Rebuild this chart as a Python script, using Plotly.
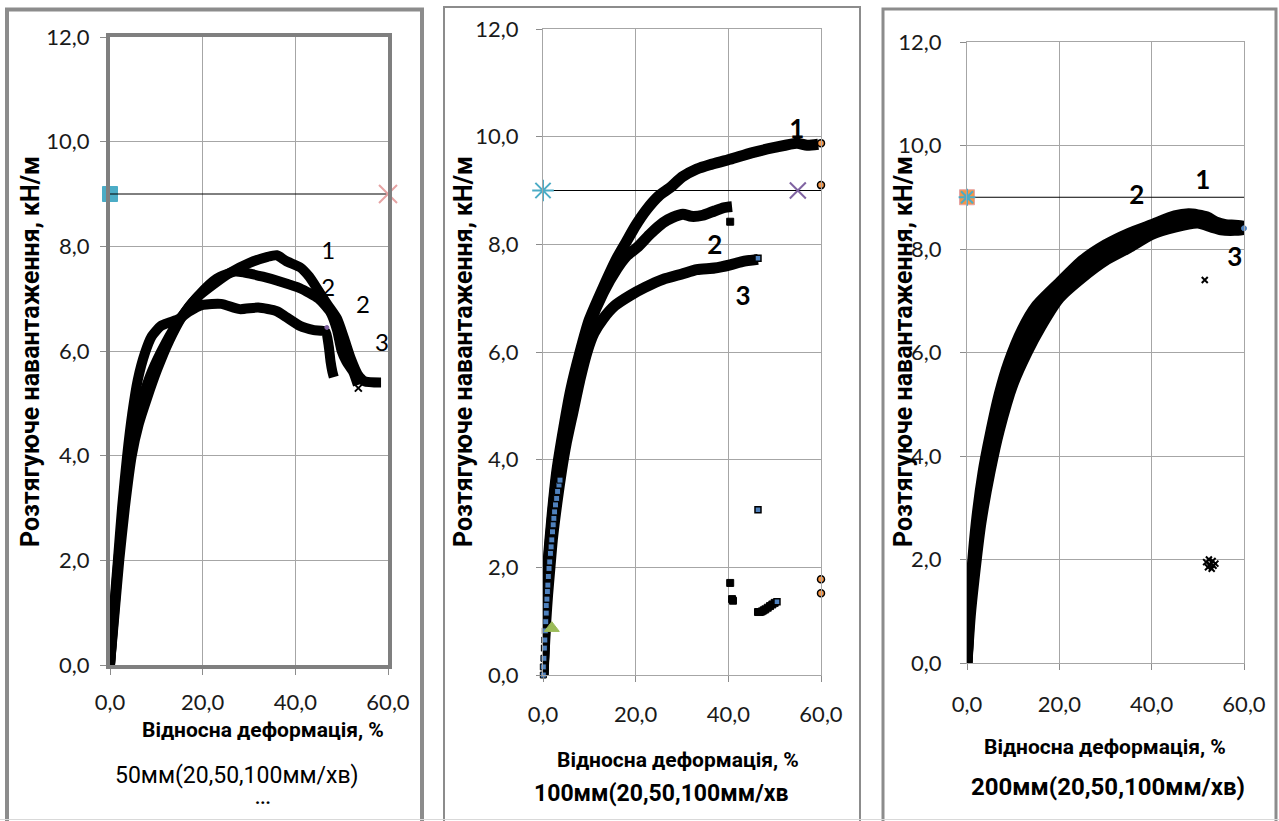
import plotly.graph_objects as go

W, H = 1279, 821

# ---------------- data ----------------
# Panel 1: 50 mm
p1_c1_x = [0, 1, 2, 3.2, 4.7, 6.2, 8, 10.2, 12.8, 15.5, 18.5, 22, 26, 30, 34, 36, 38, 41, 43, 45, 47, 49, 50.5, 52, 53.5, 55, 58.5]
p1_c1_y = [0, 1, 2, 3, 4, 4.6, 5.1, 5.65, 6.2, 6.65, 7.0, 7.25, 7.5, 7.68, 7.8, 7.83, 7.72, 7.6, 7.42, 7.15, 6.88, 6.62, 6.25, 5.85, 5.55, 5.42, 5.4]
p1_c2_x = [0, 0.9, 1.8, 2.9, 4.2, 5.6, 7.2, 9, 12, 15, 19, 23, 27, 29, 33, 37, 41, 45, 47.5, 49, 50, 51, 52.5, 53.5]
p1_c2_y = [0, 1, 2, 3, 4, 4.65, 5.15, 5.6, 6.15, 6.6, 7.05, 7.38, 7.52, 7.5, 7.42, 7.32, 7.2, 7.0, 6.75, 6.4, 6.0, 5.8, 5.6, 5.35]
p1_c3_x = [0, 0.8, 1.7, 2.6, 3.7, 4.8, 6, 7.5, 9, 11, 13, 15, 17, 20, 24, 28, 32, 36, 38, 41, 44, 46.5, 47.2, 47.6, 48, 48.3]
p1_c3_y = [0, 1, 2, 3, 4, 4.8, 5.45, 5.95, 6.28, 6.48, 6.55, 6.62, 6.75, 6.88, 6.9, 6.8, 6.83, 6.76, 6.65, 6.48, 6.4, 6.37, 6.1, 5.8, 5.6, 5.5]

# Panel 2: 100 mm
p2_c1_x = [0, 0.5, 1, 2, 3, 4.5, 6, 8, 10, 13, 16, 18, 20, 22.4, 25, 27.4, 30, 33.2, 36, 40.4, 45, 50, 54.8, 57, 59.4]
p2_c1_y = [0, 1.2, 2.0, 3.0, 3.8, 4.6, 5.3, 6.0, 6.6, 7.2, 7.75, 8.05, 8.35, 8.65, 8.9, 9.05, 9.25, 9.4, 9.48, 9.58, 9.7, 9.8, 9.88, 9.84, 9.86]
p2_c2_x = [0, 0.5, 1, 2, 3, 4.5, 6, 8, 10, 13, 16, 18, 20.3, 23, 25.9, 28, 30.2, 32, 34.5, 37, 39, 40.8]
p2_c2_y = [0, 1.1, 1.9, 2.9, 3.7, 4.5, 5.2, 5.9, 6.5, 7.1, 7.55, 7.78, 7.94, 8.18, 8.4, 8.5, 8.56, 8.52, 8.54, 8.62, 8.68, 8.7]
p2_c3_x = [0, 0.3, 0.6, 1, 1.5, 2, 3, 4, 5, 6.5, 8, 9.5, 11, 13, 15.5, 18.8, 22, 25.9, 30, 33.2, 37, 40.4, 43, 46.4]
p2_c3_y = [0, 0.5, 1.0, 1.5, 2.0, 2.5, 3.2, 3.8, 4.3, 4.9, 5.5, 6.0, 6.35, 6.62, 6.86, 7.05, 7.2, 7.35, 7.45, 7.53, 7.56, 7.62, 7.68, 7.72]
p2_blue_x = [0.07, 0.07, 0.2, 0.3, 0.4, 0.5, 0.6, 0.7, 0.7, 0.85, 0.95, 1.05, 1.15, 1.3, 1.45, 1.6, 1.75, 1.9, 2.05, 2.2, 2.35, 2.5, 2.7, 2.95, 3.15, 3.45, 3.67]
p2_blue_y = [0, 0.15, 0.31, 0.5, 0.65, 0.82, 0.99, 1.15, 1.29, 1.41, 1.55, 1.67, 1.83, 1.98, 2.1, 2.26, 2.38, 2.51, 2.66, 2.79, 2.91, 3.03, 3.16, 3.28, 3.41, 3.53, 3.62]
p2_blk_x = [40.4, 40.4, 40.8, 41.0, 46.4, 46.8, 47.2, 47.6, 48.0, 48.5, 49.0, 49.5, 50.0]
p2_blk_y = [8.42, 1.71, 1.41, 1.38, 1.17, 1.17, 1.18, 1.2, 1.22, 1.25, 1.28, 1.31, 1.34]
p2_bluesq_x = [46.4, 46.4, 50.5]
p2_bluesq_y = [7.74, 3.07, 1.36]
p2_orange_x = [60, 60, 60, 60]
p2_orange_y = [9.88, 9.1, 1.78, 1.52]
p2_green_x = [1.9]
p2_green_y = [0.87]

# Panel 3: 200 mm
p3_c1_x = [0, 0.5, 1, 2, 3.5, 5, 7, 9, 12, 15, 20, 25, 30, 35, 40, 45, 48, 50, 52, 54, 56, 58, 60]
p3_c1_y = [0, 1.0, 1.7, 2.7, 3.7, 4.4, 5.2, 5.8, 6.45, 6.9, 7.35, 7.78, 8.08, 8.3, 8.47, 8.64, 8.68, 8.66, 8.62, 8.52, 8.47, 8.46, 8.44]
p3_c2_x = [0, 0.5, 1, 2, 3.5, 5, 7, 9, 12, 15, 20, 25, 30, 35, 40, 45, 48, 50, 52, 54, 56, 58, 60]
p3_c2_y = [0, 0.9, 1.6, 2.5, 3.5, 4.2, 5.0, 5.6, 6.2, 6.65, 7.2, 7.6, 7.92, 8.15, 8.36, 8.53, 8.6, 8.6, 8.55, 8.45, 8.41, 8.41, 8.4]
p3_c3_x = [0, 0.7, 1.5, 3, 5, 7, 10, 13, 16, 20, 25, 30, 35, 40, 45, 50, 53, 55, 58, 60]
p3_c3_y = [0, 0.9, 1.6, 2.7, 3.7, 4.5, 5.4, 6.0, 6.5, 7.05, 7.45, 7.78, 8.02, 8.28, 8.42, 8.5, 8.42, 8.37, 8.36, 8.38]
p3_x_x = [51.5, 51.8, 52.2, 52.6, 53.0, 53.4, 53.8, 52.4, 53.2]
p3_x_y = [7.4, 1.95, 1.85, 1.9, 1.82, 1.88, 1.92, 2.0, 1.97]

# Reference (horizontal) line at 9 kN/m
ref_x = [0, 60]
ref_y = [9, 9]

x_ticks = [0, 20, 40, 60]
x_ticktext = ["0,0", "20,0", "40,0", "60,0"]
y_ticks = [0, 2, 4, 6, 8, 10, 12]
y_ticktext = ["0,0", "2,0", "4,0", "6,0", "8,0", "10,0", "12,0"]

x_title = "Відносна деформація, %"
y_title = "Розтягуюче навантаження, кН/м"
subtitles = ["50мм(20,50,100мм/хв)", "100мм(20,50,100мм/хв", "200мм(20,50,100мм/хв)"]

# curve number labels (panel, text, x, y)
lab_panel = ["", "", "", "", "2", "2", "2", "3", "3", "3"]
lab_text = ["1", "2", "2", "3", "1", "2", "3", "1", "2", "3"]
lab_x = [47.1, 47.1, 54.6, 58.7, 54.8, 37.1, 43.2, 51.1, 36.8, 58.0]
lab_y = [7.87, 7.17, 6.84, 6.11, 10.09, 7.95, 7.0, 9.29, 9.0, 7.79]

# ---------------- layout helpers ----------------
def fx(p):
    return p / W

def fy(p):
    return 1 - p / H

TXT = "Roboto, 'Open Sans', sans-serif"
NUM = "Lato, Roboto, sans-serif"
BLACK = "#000000"

# plot areas in pixels: (left, right, top, bottom)
areas = [(110, 388, 37, 665), (543, 821, 29, 675), (967, 1244, 42, 663)]

fig = go.Figure()

# number labels first so the curves pass over them, as in the original
for p, t, x, y in zip(lab_panel, lab_text, lab_x, lab_y):
    bold = p != ""
    fig.add_trace(go.Scatter(x=[x], y=[y], mode="text", text=["<b>" + t + "</b>" if bold else t],
                             xaxis="x" + p, yaxis="y" + p, textposition="middle center",
                             textfont=dict(family=NUM, size=26 if bold else 24, color=BLACK),
                             showlegend=False, hoverinfo="skip", cliponaxis=False))

def curve(x, y, ax, width=10):
    fig.add_trace(go.Scatter(x=x, y=y, mode="lines", xaxis="x" + ax, yaxis="y" + ax,
                             line=dict(color=BLACK, width=width, shape="spline", smoothing=0.6),
                             showlegend=False, hoverinfo="skip", cliponaxis=False))

def marks(x, y, ax, symbol, color, size, lc=BLACK, lw=1):
    fig.add_trace(go.Scatter(x=x, y=y, mode="markers", xaxis="x" + ax, yaxis="y" + ax,
                             marker=dict(symbol=symbol, color=color, size=size,
                                         line=dict(color=lc, width=lw)),
                             showlegend=False, hoverinfo="skip", cliponaxis=False))

def refline(ax):
    fig.add_trace(go.Scatter(x=ref_x, y=ref_y, mode="lines", xaxis="x" + ax, yaxis="y" + ax,
                             line=dict(color=BLACK, width=1), showlegend=False,
                             hoverinfo="skip", cliponaxis=False))

# Panel 1
curve(p1_c1_x, p1_c1_y, "")
curve(p1_c2_x, p1_c2_y, "")
curve(p1_c3_x, p1_c3_y, "")
marks([53.6], [5.29], "", "x-thin-open", BLACK, 7, BLACK, 2)
marks([46.8], [6.45], "", "circle", "#8064A2", 4, "#8064A2", 1)
marks([0], [9], "", "square", "#4BACC6", 15, "#4BACC6", 1)
refline("")
marks([60], [9], "", "x-thin-open", "#E6A3A3", 18, "#E6A3A3", 2)

# Panel 2
curve(p2_c1_x, p2_c1_y, "2", 11)
curve(p2_c2_x, p2_c2_y, "2", 11)
curve(p2_c3_x, p2_c3_y, "2", 11)
marks(p2_blk_x, p2_blk_y, "2", "square", BLACK, 7, BLACK, 1)
marks(p2_blue_x, p2_blue_y, "2", "square", "#4F81BD", 6, BLACK, 1)
marks(p2_bluesq_x, p2_bluesq_y, "2", "square", "#4F81BD", 6, BLACK, 1.5)
marks(p2_orange_x, p2_orange_y, "2", "circle", "#F79646", 7, BLACK, 1.5)
marks(p2_green_x, p2_green_y, "2", "triangle-up", "#9BBB59", 13, "#9BBB59", 1)
refline("2")
marks([0], [9], "2", "asterisk-open", "#4BACC6", 18, "#4BACC6", 2)
marks([55], [9], "2", "x-thin-open", "#8064A2", 16, "#8064A2", 2)

# Panel 3
curve(p3_c1_x, p3_c1_y, "3", 11)
curve(p3_c2_x, p3_c2_y, "3", 11)
curve(p3_c3_x, p3_c3_y, "3", 11)
marks(p3_x_x, p3_x_y, "3", "x-thin-open", BLACK, 6, BLACK, 2)
marks([60], [8.4], "3", "circle", "#4F81BD", 5, "#4F81BD", 1)
refline("3")
marks([0], [9], "3", "square", "#F79646", 15, "#E6A3A3", 1)
marks([0], [9], "3", "asterisk-open", "#4BACC6", 14, "#4BACC6", 2)

# ---------------- axes ----------------
layout = dict(width=W, height=H, margin=dict(l=0, r=0, t=0, b=0, pad=0, autoexpand=False),
              paper_bgcolor="white", plot_bgcolor="white", showlegend=False)

for i, (l, r, t, b) in enumerate(areas):
    sfx = "" if i == 0 else str(i + 1)
    thick = i == 0
    line_w = 4 if thick else 1
    line_c = "#7f7f7f" if thick else "#a6a6a6"
    standoff_x = [9, 14, 16][i]
    standoff_y = [6, 13, 14][i]
    layout["xaxis" + sfx] = dict(domain=[fx(l), fx(r)], range=[0, 60], anchor="y" + sfx,
                                 automargin=False,
                                 tickvals=x_ticks, ticktext=x_ticktext,
                                 showgrid=True, gridcolor="#a6a6a6", gridwidth=1,
                                 zeroline=False, showline=True, linecolor=line_c, linewidth=line_w,
                                 mirror=True, ticks="outside", ticklen=6, tickcolor="#8c8c8c",
                                 ticklabelstandoff=standoff_x,
                                 tickfont=dict(family=NUM, size=22, color="#1a1a1a"), fixedrange=True)
    layout["yaxis" + sfx] = dict(domain=[fy(b), fy(t)], range=[0, 12], anchor="x" + sfx,
                                 automargin=False,
                                 tickvals=y_ticks, ticktext=y_ticktext,
                                 showgrid=True, gridcolor="#a6a6a6", gridwidth=1,
                                 zeroline=False, showline=True, linecolor=line_c, linewidth=line_w,
                                 mirror=True, ticks="outside", ticklen=6, tickcolor="#8c8c8c",
                                 ticklabelstandoff=standoff_y,
                                 tickfont=dict(family=NUM, size=22, color="#1a1a1a"), fixedrange=True)

# ---------------- frames ----------------
shapes = []
frames = [(7, 422, 9.5, 835, 4), (444, 860, 7, 835, 2), (883, 1276, 9, 835, 3)]
for (x0, x1, y0, y1, w) in frames:
    shapes.append(dict(type="rect", xref="paper", yref="paper", x0=fx(x0), x1=fx(x1),
                       y0=fy(y1), y1=fy(y0), line=dict(color="#8c8c8c", width=w),
                       fillcolor="rgba(0,0,0,0)", layer="below"))
shapes.append(dict(type="line", xref="paper", yref="paper", x0=0, x1=1, y0=fy(819.5), y1=fy(819.5),
                   line=dict(color="#d9d9d9", width=1)))
layout["shapes"] = shapes

# ---------------- text ----------------
ann = []

def ptext(text, x, y, size, bold=False, angle=0, family=TXT):
    t = "<b>" + text + "</b>" if bold else text
    ann.append(dict(text=t, x=fx(x), y=fy(y), xref="paper", yref="paper", showarrow=False,
                    xanchor="center", yanchor="middle", textangle=angle,
                    font=dict(family=family, size=size, color="#000000")))

xt_pos = [(263, 730), (678, 760), (1105, 747)]
yt_pos = [(30, 352), (463, 352), (903, 352)]
st_pos = [(237, 775), (661, 793), (1108, 787)]
st_size = [23, 23, 24]
for i in range(3):
    ptext(x_title, *xt_pos[i], 21, bold=True)
    ptext(y_title, *yt_pos[i], 25, bold=True, angle=-90)
    ptext(subtitles[i], *st_pos[i], st_size[i], bold=(i > 0))
ptext("...", 263, 797, 18, bold=True)

layout["annotations"] = ann
fig.update_layout(**layout)
fig.write_html("out.html")
